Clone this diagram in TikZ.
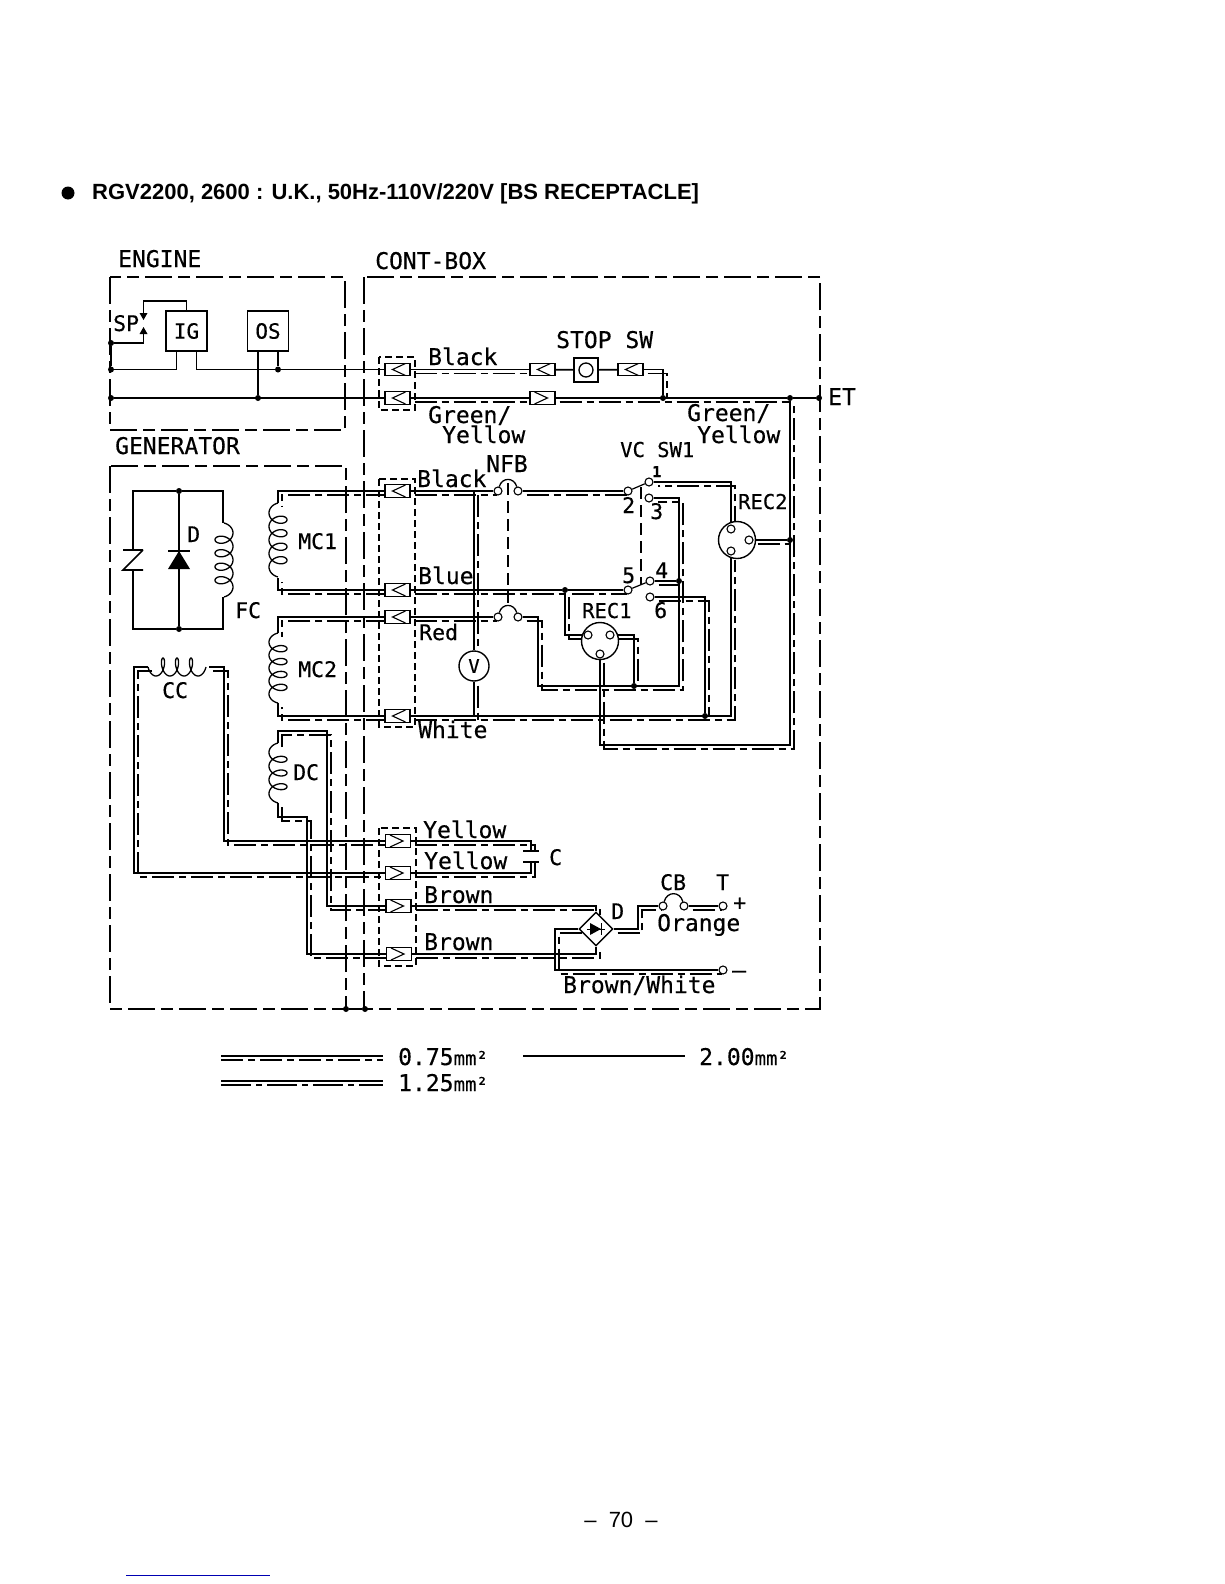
\documentclass[tikz,border=0pt]{standalone}
\usepackage{fontspec}
\setmainfont{Liberation Sans}
\setmonofont[FakeBold=0.4]{DejaVu Sans Mono}
\usetikzlibrary{shapes.geometric,backgrounds}

\tikzset{
  wire/.style={line width=1.7pt},
  wirealt/.style={line width=1.2pt,dash pattern=on 22pt off 5pt on 7pt off 5pt,
    transform canvas={xshift=4pt,yshift=-4pt}},
  framed/.style={line width=1.2pt,dash pattern=on 27pt off 6pt on 12pt off 6pt},
  grouped/.style={line width=1.1pt,dash pattern=on 7pt off 4pt},
  shaft/.style={line width=1.1pt,dash pattern=on 12pt off 6pt},
  lbl/.style={anchor=base west,inner sep=0pt,font=\ttfamily\fontsize{23}{23}\selectfont},
  lblsm/.style={lbl,font=\ttfamily\fontsize{21.5}{20}\selectfont},
  lblrec/.style={lbl,font=\ttfamily\fontsize{20.5}{20}\selectfont},
  lbltiny/.style={lbl,font=\ttfamily\bfseries\fontsize{15}{15}\selectfont},
  unitbox/.style={draw,line width=1.5pt,fill=white,inner sep=0pt,minimum width=41pt,minimum height=40pt,
    font=\ttfamily\fontsize{21}{21}\selectfont},
  jdot/.style={circle,fill=black,inner sep=0pt,minimum size=6pt},
  pinnode/.style={circle,draw,line width=1.1pt,fill=white,inner sep=0pt,minimum size=8pt},
  recnode/.style={circle,draw,line width=1.4pt,fill=white,inner sep=0pt,minimum size=37pt},
  connl/.style={draw,line width=1.3pt,fill=white,inner sep=0pt,minimum width=25pt,minimum height=12.5pt,
    path picture={\draw[line width=1.1pt] (path picture bounding box.center) ++(8,-6) -- ++(-13,6) -- ++(13,6);}},
  connr/.style={draw,line width=1.3pt,fill=white,inner sep=0pt,minimum width=25pt,minimum height=12.5pt,
    path picture={\draw[line width=1.1pt] (path picture bounding box.center) ++(-8,-6) -- ++(13,6) -- ++(-13,6);}},
}
% solid conductor and its dashed tracer
\newcommand{\dwire}[1]{\draw[wire] #1; \draw[wirealt] #1;}
% x, top y, outer side (+/-), last angle, pitch, loop height
\newcommand{\vcoil}[6]{\draw[line width=1.3pt] plot[domain=-90:#4,samples=140]
  ({#1+#3*9*cos(\x)},{#2+(\x+90)/360*#5+#6*(sin(\x)+1)});}

\begin{document}
\begin{tikzpicture}[x=1pt,y=-1pt]
\useasboundingbox (0,0) rectangle (1224,1584);

% title and page number
\node[circle,fill=black,inner sep=0pt,minimum size=13pt] (bullet) at (68,193) {};
\node[anchor=base west,inner sep=0pt,font=\bfseries\fontsize{22}{22}\selectfont] (title) at (92,199)
  {RGV2200, 2600 : U.K., 50Hz-110V/220V [BS RECEPTACLE]};
\node[anchor=base,inner sep=0pt,font=\fontsize{22}{22}\selectfont] (pageno) at (621,1527) {--\ \ 70\ \ --};

% frames
\draw[framed] (110,277) rectangle (345,430);
\draw[framed] (110,466) rectangle (346,1009);
\draw[framed] (364,277) rectangle (820,1009);
\draw[grouped] (379,357) rectangle (415,410);
\draw[grouped] (379,479) rectangle (415,727);
\draw[grouped] (379,828) rectangle (416,966);

% connectors
\foreach \nm/\px/\py in {ca1/397.5/369.5,ca2/397.5/398,cs1/542.5/369.5,cs2/630.5/369.5,
  cb1/397.5/491,cb2/397.5/590,cb3/397.5/617,cb4/397.5/716}
  \node[connl] (\nm) at (\px,\py) {};
\foreach \nm/\px/\py in {cs3/542.5/398,cc1/398/841,cc2/398/873,cc3/398.5/906,cc4/399/954}
  \node[connr] (\nm) at (\px,\py) {};

% junction dots
\foreach \nm/\px/\py in {j1/111/343,j2/111/369.5,j3/278/369.5,j4/258/398,j5/111/398,
  j6/663/398,j7/790/398,et/819/398,j9/565/590,j10/679/581,j11/634/686,j12/705/716,
  j13/790/540,j14/179/491,j15/179/629,d1/346/1009,d2/365/1009}
  \node[jdot] (\nm) at (\px,\py) {};

% switch, breaker and socket pins
\foreach \nm/\px/\py in {sw1/649/482,sw2/628/491,sw3/649/498,sw4/650/581,sw5/628/590,sw6/650/597,
  nf1/498/491,nf2/518/491,nf3/498/617,nf4/518/617,cbl/663/906,cbr/684/906,tp/723/906,tm/723/970}
  \node[pinnode] (\nm) at (\px,\py) {};
\node[recnode] (rectwo) at (737,540) {};
\node[recnode] (recone) at (600,641) {};
\foreach \nm/\px/\py in {r2a/731/529,r2b/749/540,r2c/731/551,r1a/588/635,r1b/610/635,r1c/600/654}
  \node[pinnode] (\nm) at (\px,\py) {};

% boxes
\node[unitbox] (ig) at (186.5,331) {IG};
\node[unitbox] (os) at (268,331) {OS};
\node[draw,line width=1.5pt,fill=white,inner sep=0pt,minimum size=24pt] (stop) at (586,370) {};
\node[circle,draw,line width=1.3pt,inner sep=0pt,minimum size=14pt] (stopc) at (586,370) {};
\node[circle,draw,line width=1.4pt,fill=white,inner sep=0pt,minimum size=30pt,
  font=\ttfamily\fontsize{19}{19}\selectfont] (vm) at (474,666) {V};
\node[diamond,draw,line width=1.4pt,fill=white,inner sep=0pt,minimum width=34pt,minimum height=34pt] (brd) at (596,929) {};

% free ends and corners
\foreach \nm/\px/\py in {sptop/143.5/313,spbot/143.5/334,vt/474/491,vb/474/716,
  k1/538/686,k2/679/686,k5/790/745,k6/327/731,k7/307/817,k8/134/667,k9/224/667,
  k10/555/929,k11/638/929,zt/133/550,zb/133/570,dt/179/551,fcu/223/523,fcd/223/597,
  m1t/278/503,m1b/278/578,m2t/278/633,m2b/278/703,dct/278/743,dcb/278/803,
  cl/148/667,cr/209/667,capt/531/851,capb/531/862,nfa/508/483,nfb/508/607,
  ssa/641/487,ssb/641/585,lg1/221/1056,lg2/383/1056,lg3/221/1081,lg4/383/1081,
  lg5/523/1056,lg6/685/1056,lg7/221/1060,lg8/383/1060,lg9/221/1085,lg10/383/1085,
  ula/126/1575,ulb/270/1575}
  \coordinate (\nm) at (\px,\py);

\begin{scope}[on background layer]
% engine side
\draw[wire] (ig.north) -- ++(0,-9) -| (sptop);
\draw[wire] (spbot) |- (j1) -- (j2);
\draw[wire] (j2) -| ([xshift=-10pt]ig.south);
\draw[wire] ([xshift=10pt]ig.south) |- (ca1);
\draw[wire] ([xshift=10pt]os.south) -- (j3);
\draw[wire] ([xshift=-10pt]os.south) -- (j4);
\draw[wire] (j5) -- (ca2);
% stop switch and earth
\dwire{(ca1) -- (cs1)}
\draw[wire] (cs1) -- (stop);
\draw[wire] (stop) -- (cs2);
\dwire{(cs2) -| (j6)}
\dwire{(ca2) -- (cs3)}
\dwire{(cs3) -- (j7)}
\draw[wire] (j7) -- (et);
% main coils to breakers and switch
\dwire{(cb1) -- (nf1)}
\dwire{(nf2) -- (sw2)}
\dwire{(vt) -- (vm)}
\dwire{(vm) -- (vb)}
\dwire{(cb2) -- (j9)}
\dwire{(j9) -- (sw5)}
\dwire{(cb3) -- (nf3)}
\dwire{(nf4) -| (k1) -- (k2) |- (sw3)}
\dwire{(sw4) -- (j10)}
\dwire{(r1b) -| (j11)}
\dwire{(j9) |- (r1a)}
\dwire{(sw6) -| (j12)}
\dwire{(cb4) -| (r2c)}
\dwire{(r2a) |- (sw1)}
\dwire{(r2b) -- (j13)}
\dwire{(r1c) |- (k5) -- (j7)}
% generator side
\draw[wire] (zt) |- (j14) -| (fcu);
\draw[wire] (zb) |- (j15) -| (fcd);
\draw[wire] (j14) -- (j15);
\dwire{(cb1) -| (m1t)}
\dwire{(cb2) -| (m1b)}
\dwire{(cb3) -| (m2t)}
\dwire{(cb4) -| (m2b)}
\dwire{(dct) |- (k6) |- (cc3)}
\dwire{(dcb) |- (k7) |- (cc4)}
\dwire{(cl) -- (k8) |- (cc2)}
\dwire{(cr) -- (k9) |- (cc1)}
\draw[wire] (cc1) -| (capt);
\draw[wirealt] (cc1) -| ([yshift=4pt]capt);
\draw[wire] (cc2) -| (capb);
\draw[wirealt] (cc2) -| ([yshift=4pt]capb);
\dwire{(cc3) -| (brd)}
\dwire{(cc4) -| (brd)}
\dwire{(brd) -- (k10) |- (tm)}
\dwire{(brd) -- (k11) |- (cbl)}
\dwire{(cbr) -- (tp)}
\end{scope}

% ganged parts
\draw[shaft] (nfa) -- (nfb);
\draw[shaft] (ssa) -- (ssb);
\draw[line width=1.2pt] (sw2) -- (sw1);
\draw[line width=1.2pt] (sw5) -- (sw4);
\draw[line width=1.3pt] (nf1) .. controls +(4,-14) and +(-4,-14) .. (nf2);
\draw[line width=1.3pt] (nf3) .. controls +(4,-14) and +(-4,-14) .. (nf4);
\draw[line width=1.3pt] (cbl) .. controls +(4,-15) and +(-4,-15) .. (cbr);
\draw[framed] (d1) -- (d2);

% spark plug, zener, diode, capacitor
\fill (sptop) ++(-4,0) -- ++(8,0) -- ++(-4,7) -- cycle;
\fill (spbot) ++(-4,0) -- ++(8,0) -- ++(-4,-7) -- cycle;
\draw[wire] (zt) ++(10,0) -- ++(-20,0) ++(20,0) -- ++(-20,20) -- ++(20,0);
\fill (dt) -- ++(-11,18) -- ++(22,0) -- cycle;
\draw[wire] (dt) ++(-11,0) -- ++(22,0);
\draw[wire] (capt) ++(-8,0) -- ++(16,0);
\draw[wire] (capb) ++(-8,0) -- ++(16,0);
\fill (brd) ++(-6,-6) -- ++(11,6) -- ++(-11,6) -- cycle;
\draw[line width=1pt] (brd) ++(-9,0) -- ++(18,0) ++(-4,-6) -- ++(0,12);

% coils
\vcoil{224}{523}{1}{1530}{13.5}{6.6}
\vcoil{278}{503}{-1}{1530}{13.5}{6.6}
\vcoil{278}{633}{-1}{1530}{12.9}{6}
\vcoil{278}{743}{-1}{1170}{13.7}{6}
\draw[line width=1.3pt] plot[domain=-90:1170,samples=110]
  ({148+(\x+90)/360*14+4.5*(sin(\x)+1)},{667+9*cos(\x)});

% labels
\node[lbl] (tengine) at (118,267) {ENGINE};
\node[lbl] (tcont) at (375,269) {CONT-BOX};
\node[lbl] (tgen) at (115,454) {GENERATOR};
\node[lblsm] (tsp) at (113,331) {SP};
\node[lbl] (tstop) at (556,348) {STOP SW};
\node[lbl] (tblack) at (428,365) {Black};
\node[lbl] (tgreena) at (428,423) {Green/};
\node[lbl] (tyela) at (442,443) {Yellow};
\node[lbl] (tgreenb) at (687,421) {Green/};
\node[lbl] (tyelb) at (697,443) {Yellow};
\node[lbl] (tet) at (828,405) {ET};
\node[lblrec] (tvc) at (620,457) {VC SW1};
\node[lbl] (tnfb) at (486,472) {NFB};
\node[lbl] (tblackb) at (417,487) {Black};
\node[lbltiny] (tone) at (652,477) {1};
\node[lblsm] (ttwo) at (622,513) {2};
\node[lblsm] (tthree) at (650,519) {3};
\node[lblrec] (trectwo) at (738,509) {REC2};
\node[lblsm] (tfive) at (622,583) {5};
\node[lblsm] (tfour) at (655,578) {4};
\node[lblsm] (tsix) at (654,618) {6};
\node[lblrec] (trecone) at (582,618) {REC1};
\node[lbl] (tblue) at (418,584) {Blue};
\node[lblsm] (tred) at (419,640) {Red};
\node[lbl] (twhite) at (418,738) {White};
\node[lblsm] (tdd) at (187,542) {D};
\node[lblsm] (tfc) at (235,618) {FC};
\node[lblsm] (tmca) at (298,549) {MC1};
\node[lblsm] (tmcb) at (298,677) {MC2};
\node[lblsm] (tcc) at (162,698) {CC};
\node[lblsm] (tdc) at (293,780) {DC};
\node[lbl] (tyb) at (423,838) {Yellow};
\node[lbl] (tyc) at (424,869) {Yellow};
\node[lbl] (tbra) at (424,903) {Brown};
\node[lbl] (tbrb) at (424,950) {Brown};
\node[lblsm] (tcap) at (549,865) {C};
\node[lblsm] (tcb) at (660,890) {CB};
\node[lblsm] (tt) at (716,890) {T};
\node[lblsm] (tdb) at (611,919) {D};
\node[lbl] (torange) at (657,931) {Orange};
\node[lbl] (tbw) at (563,993) {Brown/White};
\node[lblsm] (tplus) at (733,910) {+};
\node[lbl] (tminus) at (732,978) {–};

% legend
\draw[wire] (lg1) -- (lg2);
\draw[line width=1.1pt,dash pattern=on 22pt off 5pt on 7pt off 5pt] (lg7) -- (lg8);
\draw[line width=1.9pt] (lg3) -- (lg4);
\draw[line width=1.4pt,dash pattern=on 30pt off 5pt on 6pt off 5pt] (lg9) -- (lg10);
\draw[wire] (lg5) -- (lg6);
\node[lbl] (tlga) at (398,1065) {0.75{\fontsize{19}{19}\selectfont mm²}};
\node[lbl] (tlgb) at (398,1091) {1.25{\fontsize{19}{19}\selectfont mm²}};
\node[lbl] (tlgc) at (699,1065) {2.00{\fontsize{19}{19}\selectfont mm²}};

\draw[line width=1pt,blue!70!black] (ula) -- (ulb);
\end{tikzpicture}
\end{document}
